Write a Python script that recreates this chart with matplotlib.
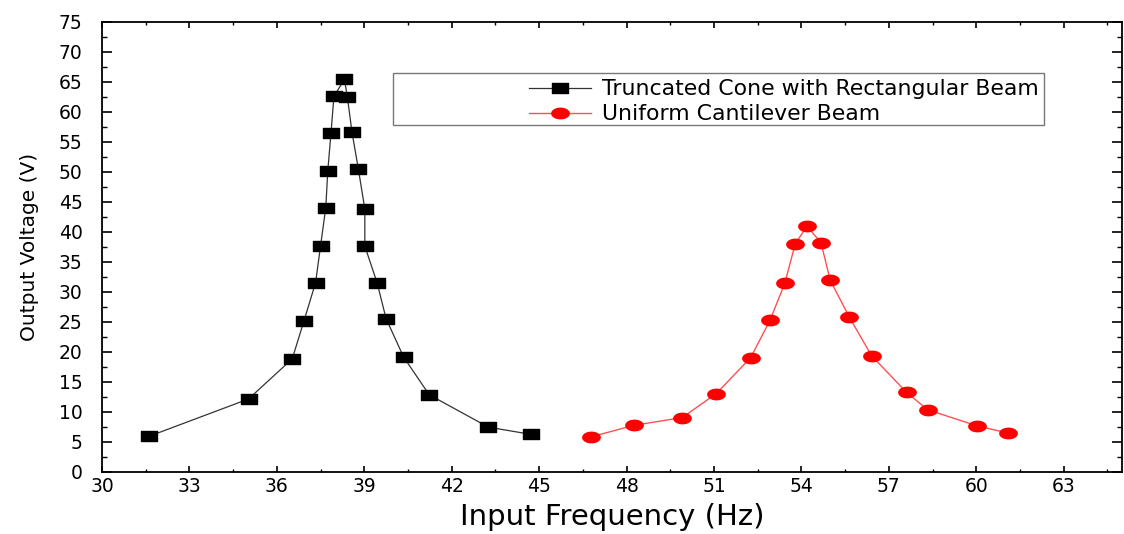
import numpy as np
import matplotlib
matplotlib.use("Agg")
import matplotlib.pyplot as plt
from matplotlib.path import Path
from matplotlib.patches import Rectangle
from matplotlib.ticker import MultipleLocator

# truncated cone with rectangular beam
cone_freq = [31.63, 35.03, 36.53, 36.93, 37.33, 37.50, 37.68, 37.75, 37.86, 37.96, 38.32,
             38.42, 38.58, 38.80, 39.02, 39.02, 39.44, 39.75, 40.35, 41.23, 43.26, 44.72]
cone_volt = [5.9, 12.1, 18.8, 25.1, 31.5, 37.6, 44.0, 50.2, 56.5, 62.6, 65.4,
             62.5, 56.6, 50.4, 43.8, 37.6, 31.5, 25.5, 19.1, 12.8, 7.4, 6.2]

# uniform cantilever beam
beam_freq = [46.79, 48.25, 49.91, 51.08, 52.26, 52.92, 53.43, 53.79, 54.19,
             54.67, 54.99, 55.65, 56.41, 57.61, 58.33, 60.04, 61.10]
beam_volt = [5.8, 7.7, 9.0, 13.0, 19.0, 25.2, 31.4, 38.0, 40.9,
             38.2, 31.9, 25.7, 19.3, 13.2, 10.3, 7.6, 6.4]

labels = ["Truncated Cone with Rectangular Beam", "Uniform Cantilever Beam"]

plt.rcParams['font.family'] = ['DejaVu Sans']

# flattened marker shapes (the original figure is stretched sideways)
rect_marker = Path([(-1, -0.6), (1, -0.6), (1, 0.6), (-1, 0.6), (-1, -0.6)], closed=True)
t = np.linspace(0, 2 * np.pi, 41)
oval_marker = Path(np.column_stack([np.cos(t), 0.6 * np.sin(t)]), closed=True)

fig = plt.figure(figsize=(11.24, 5.34), dpi=100)
ax = fig.add_axes([0.0907, 0.117, 0.9075, 0.842])

ax.plot(cone_freq, cone_volt, color='#333333', lw=0.9, marker=rect_marker,
        ms=11, mfc='black', mec='black', label=labels[0])
ax.plot(beam_freq, beam_volt, color='#ff5050', lw=1.0, marker=oval_marker,
        ms=12.5, mfc='red', mec='red', label=labels[1])

ax.set_xlim(30, 65)
ax.set_ylim(0, 75)
ax.xaxis.set_major_locator(MultipleLocator(3))
ax.xaxis.set_minor_locator(MultipleLocator(1.5))
ax.yaxis.set_major_locator(MultipleLocator(5))
ax.yaxis.set_minor_locator(MultipleLocator(2.5))
ax.tick_params(axis='x', which='both', direction='in', top=True, labelsize=13.5, pad=4)
ax.tick_params(axis='y', which='both', direction='in', right=True, labelsize=13.5, pad=14)
ax.tick_params(axis='x', which='major', length=4.5, width=1.2)
ax.tick_params(axis='x', which='minor', length=2.5, width=1.0)
ax.tick_params(axis='y', which='major', length=7, width=1.2)
ax.tick_params(axis='y', which='minor', length=3.5, width=1.0)
for s in ax.spines.values():
    s.set_linewidth(1.3)

ax.set_xlabel('Input Frequency (Hz)', fontsize=21, labelpad=5)
ax.set_ylabel('Output Voltage (V)', fontsize=14.5, labelpad=14)

# legend frame drawn separately, it is much wider than the entries
ax.add_patch(Rectangle((0.285, 0.771), 0.639, 0.116, transform=ax.transAxes,
                       fill=False, edgecolor='#777777', lw=1.0, zorder=5))
ax.legend(loc='upper left', bbox_to_anchor=(0.419, 0.872), frameon=False,
          fontsize=15.8, borderpad=0, borderaxespad=0, handlelength=2.8,
          handletextpad=0.5, labelspacing=0.22)

fig.savefig('out.png', dpi=100)
